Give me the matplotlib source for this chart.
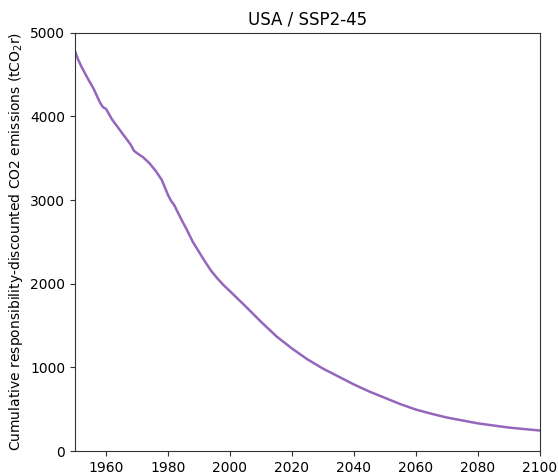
import numpy as np
import matplotlib
matplotlib.use("Agg")
from matplotlib import pyplot as plt

# values
years = [1950, 1951, 1952, 1953, 1954, 1956, 1958, 1959, 1960, 1962, 1964, 1966,
         1968, 1969, 1970, 1972, 1974, 1976, 1978, 1980, 1981, 1982, 1984,
         1986, 1988, 1990, 1992, 1994, 1996, 1998, 2000, 2005, 2010, 2015,
         2020, 2025, 2030, 2035, 2040, 2045, 2050, 2055, 2060, 2065, 2070,
         2075, 2080, 2085, 2090, 2095, 2100]
emissions = [4780, 4680, 4600, 4530, 4460, 4330, 4170, 4110, 4090, 3960, 3860, 3760,
             3660, 3590, 3560, 3510, 3440, 3350, 3240, 3060, 2990, 2940, 2790,
             2650, 2500, 2380, 2260, 2150, 2060, 1980, 1910, 1730, 1545, 1370,
             1225, 1095, 985, 890, 795, 710, 635, 560, 495, 445, 400,
             365, 330, 305, 280, 262, 245]

xticks = [1960, 1980, 2000, 2020, 2040, 2060, 2080, 2100]
yticks = [0, 1000, 2000, 3000, 4000, 5000]

fig = plt.figure(figsize=(5.58, 4.75), dpi=100)
ax = fig.add_axes([0.1344, 0.0505, 0.8333, 0.8807])

ax.plot(years, emissions, color='#9467bd', linewidth=1.8)

ax.set_xlim(1950, 2100)
ax.set_ylim(0, 5000)
ax.set_xticks(xticks)
ax.set_yticks(yticks)
ax.tick_params(labelsize=10, color='#333333')
for s in ax.spines.values():
    s.set_color('#333333')
ax.set_title('USA / SSP2-45', fontsize=12)
ax.set_ylabel('Cumulative responsibility-discounted CO2 emissions (tCO$_2$r)', fontsize=10)

fig.savefig('out.png', dpi=100)
